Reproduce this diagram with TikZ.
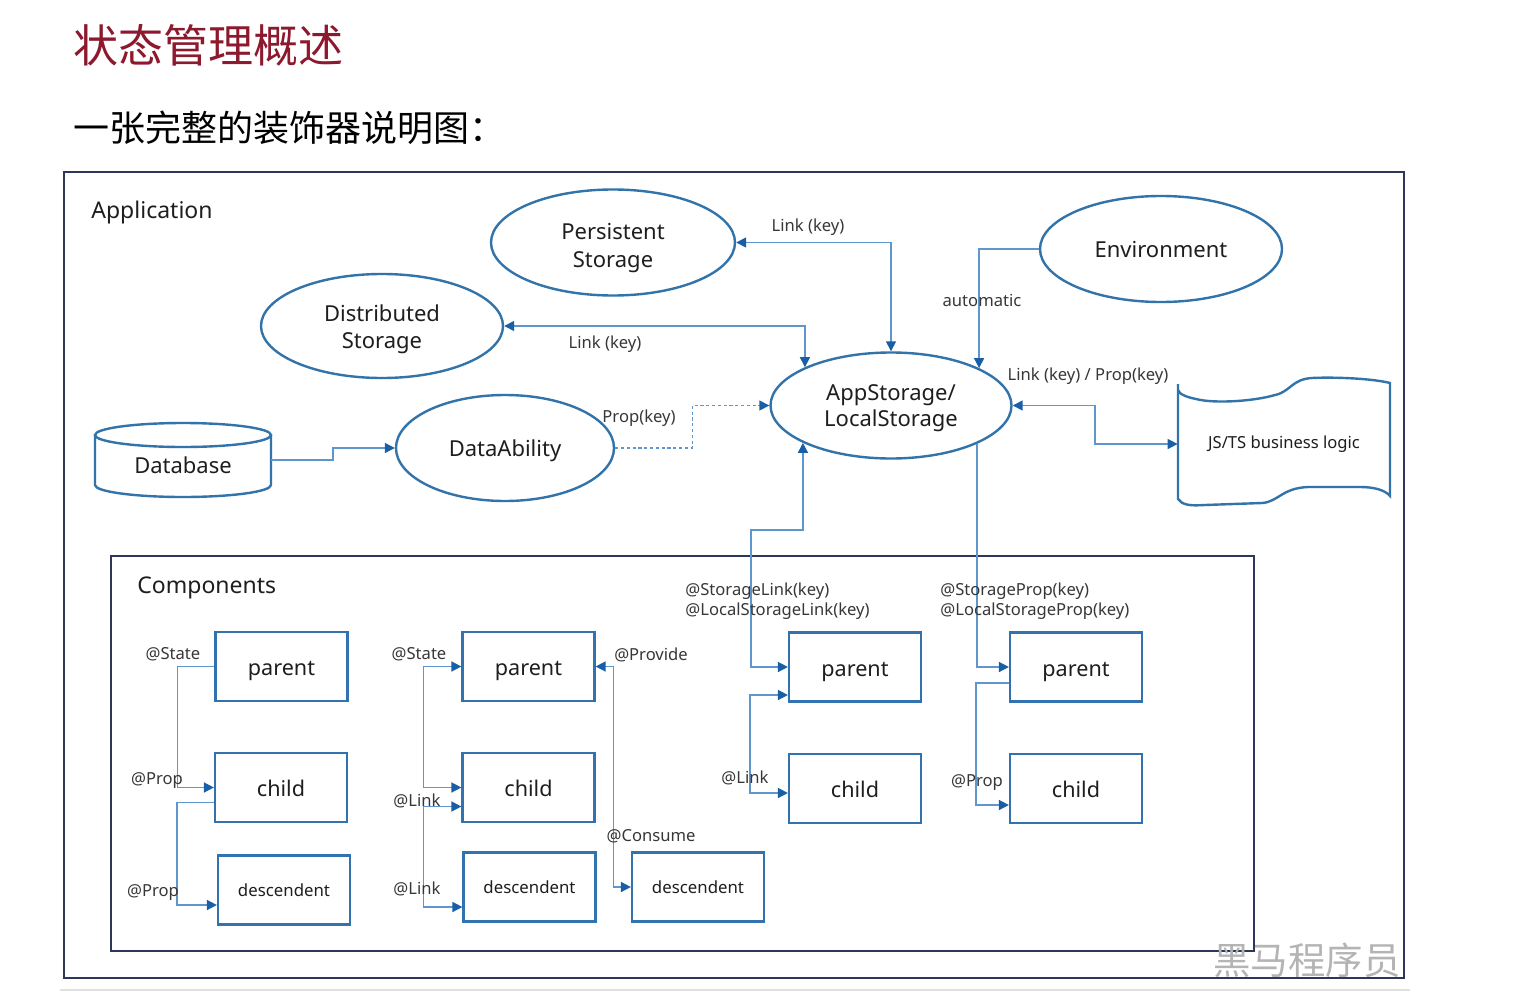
\documentclass[tikz,border=0pt]{standalone}
\usepackage{fontspec}
\setmainfont{Noto Sans}
\newfontfamily\cjk{Noto Sans CJK SC}
\usetikzlibrary{arrows.meta,calc,shapes.geometric}
\definecolor{linecol}{RGB}{95,150,205}
\definecolor{tipcol}{RGB}{25,95,165}
\definecolor{boxcol}{RGB}{50,115,175}
\definecolor{ellcol}{RGB}{50,115,170}
\definecolor{framecol}{RGB}{45,55,90}
\definecolor{textcol}{RGB}{30,30,30}
\definecolor{labcol}{RGB}{55,55,55}
\definecolor{titlecol}{RGB}{140,25,45}
\definecolor{wmcol}{RGB}{180,180,180}
\tikzset{
  conn/.style={draw=linecol, line width=0.75pt},
  ell/.style={ellipse, draw=ellcol, line width=1.2pt, inner sep=0pt,
    font=\fontsize{11}{13.5}\selectfont, text=textcol, text height=10.5pt, text depth=2pt},
  etxt/.style={anchor=base, inner sep=0pt, font=\fontsize{11}{13.5}\selectfont, text=textcol},
  box/.style={rectangle, draw=boxcol, line width=1.1pt, minimum width=66pt,
    minimum height=34.5pt, inner sep=0pt, font=\fontsize{10.8}{13}\selectfont, text=textcol,
    text height=11pt, text depth=2pt},
  sbox/.style={box, font=\fontsize{8.4}{10}\selectfont, text height=8.5pt, text depth=2pt},
  lab/.style={font=\fontsize{8.3}{10}\selectfont, text=labcol, inner sep=0pt, align=left},
  head/.style={font=\fontsize{11.5}{14}\selectfont, text=textcol, inner sep=0pt, anchor=west},
}
\begin{document}
\begin{tikzpicture}[x=0.5pt,y=-0.5pt,>={Triangle[length=5pt,width=5pt,color=tipcol]}]
\useasboundingbox (0,0) rectangle (1513,1000);
\fill[white] (0,0) rectangle (1513,1000);

% titles
\node[anchor=west, inner sep=0pt, text=titlecol, font=\cjk\fontsize{22.5}{26}\selectfont] (title) at (73,45) {状态管理概述};
\node[anchor=west, inner sep=0pt, text=black, font=\cjk\fontsize{18}{22}\selectfont] (sub) at (73,128) {一张完整的装饰器说明图：};

% frames
\draw[framecol, line width=1pt] (64,172) rectangle (1404,978);
\draw[framecol, line width=1pt] (111,556) rectangle (1254,951);
\draw[black!12, line width=0.6pt] (60,990) -- (1410,990);
\node[head] (appl) at (91,213) {Application};
\node[head] (comp) at (137,588) {Components};

% ellipses
\node[ell, minimum width=122pt, minimum height=53pt] (per) at (613,242.5) {};
\node[etxt] (per-a) at (613,240) {Persistent};
\node[etxt] (per-b) at (613,267) {Storage};
\node[ell, minimum width=121pt, minimum height=53pt] (env) at (1161,249) {Environment};
\node[ell, minimum width=121pt, minimum height=52pt] (dist) at (382,326) {};
\node[etxt] (dist-a) at (382,321) {Distributed};
\node[etxt] (dist-b) at (382,348) {Storage};
\node[ell, minimum width=120.5pt, minimum height=53pt] (app) at (891,405.5) {};
\node[etxt] (app-a) at (891,400) {AppStorage/};
\node[etxt] (app-b) at (891,426) {LocalStorage};
\node[ell, minimum width=109pt, minimum height=53pt] (da) at (505,448) {DataAbility};

% database cylinder
\draw[ellcol, line width=1.2pt] (95,435) .. controls (95,428.4) and (134.4,423) .. (183,423)
  .. controls (231.6,423) and (271,428.4) .. (271,435)
  .. controls (271,441.6) and (231.6,447) .. (183,447)
  .. controls (134.4,447) and (95,441.6) .. (95,435) -- cycle;
\draw[ellcol, line width=1.2pt] (95,435) -- (95,485)
  .. controls (95,491.6) and (134.4,497) .. (183,497)
  .. controls (231.6,497) and (271,491.6) .. (271,485) -- (271,435);
\node[minimum width=88pt, minimum height=37pt, inner sep=0pt, font=\fontsize{11}{13}\selectfont,
  text=textcol, text height=14pt, text depth=1pt] (db) at (183,460) {Database};

% JS/TS tape shape
\draw[ellcol, line width=1.2pt] (1178,384) -- (1178,499)
  .. controls (1182,505) and (1190,506) .. (1205,505) -- (1262,503)
  .. controls (1278,502) and (1282,488) .. (1308,487) -- (1360,487)
  .. controls (1374,487) and (1385,490) .. (1390,496) -- (1390,383)
  .. controls (1370,378) and (1330,377) .. (1312,378)
  .. controls (1292,379) and (1290,392) .. (1275,395)
  .. controls (1255,401) and (1215,404) .. (1196,399)
  .. controls (1186,397) and (1179,394) .. (1178,390);
\node[minimum width=106pt, minimum height=55pt, inner sep=0pt, font=\fontsize{8.3}{10}\selectfont, text=textcol] (js) at (1284,444) {JS/TS business logic};

% top connectors
\draw[conn,<->] (per.east) -| (app.north);
\draw[conn,<->] (dist.east) -| (app.156.3);
\draw[conn,->] (env.west) -| (app.23.7);
\draw[conn,->,dash pattern=on 1.6pt off 1.3pt] (da.east) -| ($(da.east)!0.5!(app.west)$) |- (app.west);
\draw[conn,->] (db.east) -| ($(db.east)!0.5!(da.west)$) |- (da.west);
\draw[conn,<->] (app.east) -| ($(app.east)!0.5!(js.west)$) |- (js.west);

\node[lab] (l1) at (808,227) {Link (key)};
\node[lab] (l2) at (605,344) {Link (key)};
\node[lab] (l3) at (982,300) {automatic};
\node[lab] (l4) at (639,418) {Prop(key)};
\node[lab] (l5) at (1088,376) {Link (key) / Prop(key)};

% component boxes
\node[box] (p1) at (281.5,666.5) {parent};
\node[box] (c1) at (281,787.5) {child};
\node[sbox] (d1) at (284,890) {descendent};
\node[box] (p2) at (528.5,666.5) {parent};
\node[box] (c2) at (528.5,787.5) {child};
\node[sbox] (d2) at (529.5,887) {descendent};
\node[sbox] (dd2) at (698,887) {descendent};
\node[box] (p3) at (855,667) {parent};
\node[box] (c3) at (855,788.5) {child};
\node[box] (p4) at (1076,667) {parent};
\node[box] (c4) at (1076,788.5) {child};

% component connectors
\draw[conn,->] (p1.west) -- ++(-37,0) |- (c1.west);
\draw[conn,->] ($(c1.west)+(0,15)$) -- ++(-37,0) |- ($(d1.west)+(0,15)$);
\draw[conn,<->] (p2.west) -- ++(-38,0) |- (c2.west);
\draw[conn,<->] ($(c2.west)+(0,19)$) -- ++(-38,0) |- ($(d2.west)+(0,20)$);
\draw[conn,<->] (p2.east) -- ++(18,0) |- (dd2.west);
\coordinate (sl) at (751,530);
\draw[conn,<->] (app.203.7) |- (sl) |- (p3.west);
\draw[conn,<->] ($(p3.west)+(0,28)$) -- ++(-38,0) |- ($(c3.west)+(0,4.5)$);
\draw[conn,->] (app.336.3) |- (p4.west);
\draw[conn,->] ($(p4.west)+(0,16)$) -- ++(-33,0) |- ($(c4.west)+(0,16.5)$);

% component labels
\node[lab] (s1) at (173,654) {@State};
\node[lab] (s2) at (157,781) {@Prop};
\node[lab] (s3) at (153,893) {@Prop};
\node[lab] (s4) at (419,654) {@State};
\node[lab] (s5) at (417,801) {@Link};
\node[lab] (s6) at (417,889) {@Link};
\node[lab] (s7) at (651,655) {@Provide};
\node[lab] (s8) at (651,836) {@Consume};
\node[lab] (s9) at (745,778) {@Link};
\node[lab] (s10) at (977,783) {@Prop};
\node[lab, anchor=west] (s11) at (685,601) {@StorageLink(key)\\@LocalStorageLink(key)};
\node[lab, anchor=west] (s12) at (940,601) {@StorageProp(key)\\@LocalStorageProp(key)};

% watermark
\node[inner sep=0pt, text=wmcol, font=\cjk\fontsize{18.7}{22}\selectfont] (wm) at (1307,960) {黑马程序员};
\end{tikzpicture}
\end{document}
